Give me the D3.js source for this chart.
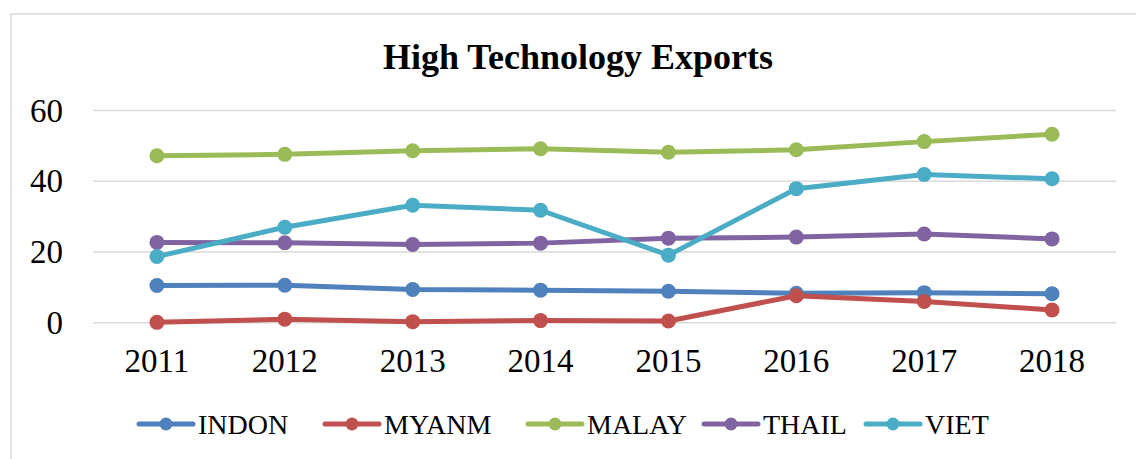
<!DOCTYPE html>
<html>
<head>
<meta charset="utf-8">
<script src="https://cdn.jsdelivr.net/npm/d3@7"></script>
<style>
  html, body { margin: 0; padding: 0; background: #fff; }
  svg { display: block; }
</style>
</head>
<body>
<svg id="chart" width="1136" height="459"></svg>
<script>
const years = ["2011", "2012", "2013", "2014", "2015", "2016", "2017", "2018"];
const seriesNames = ["INDON", "MYANM", "MALAY", "THAIL", "VIET"];
const indon = [10.5, 10.6, 9.4, 9.2, 8.9, 8.3, 8.5, 8.2];
const myanm = [0.1, 1.0, 0.3, 0.6, 0.5, 7.6, 6.0, 3.6];
const malay = [47.2, 47.6, 48.6, 49.2, 48.2, 48.9, 51.2, 53.3];
const thail = [22.7, 22.6, 22.1, 22.5, 23.9, 24.2, 25.1, 23.7];
const viet = [18.7, 27.0, 33.2, 31.8, 19.1, 37.9, 41.9, 40.7];
const yTicks = [0, 20, 40, 60];
const colors = ["#4F81BD", "#C0504D", "#9BBB59", "#8064A2", "#4BACC6"];
const title = "High Technology Exports";

const seriesData = [indon, myanm, malay, thail, viet];
const font = "'Liberation Serif', 'Times New Roman', serif";

const svg = d3.select("#chart");

// chart frame
svg.append("rect")
  .attr("x", 11).attr("y", 14).attr("width", 1140).attr("height", 460)
  .attr("fill", "none").attr("stroke", "#D9D9D9").attr("stroke-width", 1.5);

const plot = { left: 93, right: 1116, top: 110.5, bottom: 322.7 };

const x = d3.scaleBand().domain(years).range([plot.left, plot.right]);
const y = d3.scaleLinear().domain([0, 60]).range([plot.bottom, plot.top]);

// title
svg.append("text")
  .attr("x", 578).attr("y", 69)
  .attr("text-anchor", "middle")
  .attr("font-family", font).attr("font-weight", "bold")
  .attr("font-size", 36).attr("fill", "#000")
  .text(title);

// gridlines
svg.append("g").selectAll("line").data(yTicks).join("line")
  .attr("x1", plot.left).attr("x2", plot.right)
  .attr("y1", d => y(d)).attr("y2", d => y(d))
  .attr("stroke", "#D9D9D9").attr("stroke-width", 1.5);

// y axis
const yAxis = svg.append("g")
  .attr("transform", `translate(${plot.left},0)`)
  .call(d3.axisLeft(y).tickValues(yTicks).tickSize(0).tickPadding(30));
yAxis.select(".domain").remove();
yAxis.selectAll("text")
  .attr("font-family", font).attr("font-size", 33).attr("fill", "#000");

// x axis
const xAxis = svg.append("g")
  .attr("transform", `translate(0,${plot.bottom})`)
  .call(d3.axisBottom(x).tickSize(0).tickPadding(26));
xAxis.select(".domain").remove();
xAxis.selectAll("text")
  .attr("font-family", font).attr("font-size", 33).attr("fill", "#000");

// series
const line = d3.line()
  .x((d, i) => x(years[i]) + x.bandwidth() / 2)
  .y(d => y(d));

seriesData.forEach((vals, si) => {
  const g = svg.append("g");
  g.append("path")
    .datum(vals)
    .attr("d", line)
    .attr("fill", "none")
    .attr("stroke", colors[si])
    .attr("stroke-width", 5)
    .attr("stroke-linejoin", "round")
    .attr("stroke-linecap", "round");
  g.selectAll("circle").data(vals).join("circle")
    .attr("cx", (d, i) => x(years[i]) + x.bandwidth() / 2)
    .attr("cy", d => y(d))
    .attr("r", 7.5)
    .attr("fill", colors[si]);
});

// legend (item start positions are layout only)
const legendX = [139, 325, 528, 704, 866];
const legend = svg.append("g");
const ly = 424;
seriesNames.forEach((name, i) => {
  const lx = legendX[i];
  const item = legend.append("g");
  item.append("line")
    .attr("x1", lx).attr("x2", lx + 54)
    .attr("y1", ly).attr("y2", ly)
    .attr("stroke", colors[i]).attr("stroke-width", 5)
    .attr("stroke-linecap", "round");
  item.append("circle")
    .attr("cx", lx + 27).attr("cy", ly).attr("r", 6.5)
    .attr("fill", colors[i]);
  item.append("text")
    .attr("x", lx + 59).attr("y", ly + 10)
    .attr("font-family", font).attr("font-size", 28).attr("fill", "#000")
    .text(name);
});
</script>
</body>
</html>
